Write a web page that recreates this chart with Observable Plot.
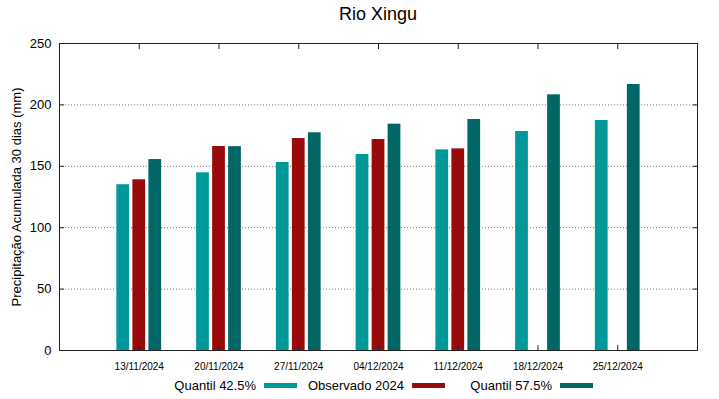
<!DOCTYPE html>
<html>
<head>
<meta charset="utf-8">
<script src="https://cdn.jsdelivr.net/npm/d3@7"></script>
<script src="https://cdn.jsdelivr.net/npm/@observablehq/plot@0.6"></script>
<style>
  body { margin: 0; background: #fff; font-family: "Liberation Sans", Arial, sans-serif; }
  #wrap { position: relative; width: 719px; height: 399px; overflow: hidden; }
  #title { position: absolute; top: 4px; left: 0; width: 756px; text-align: center; font-size: 18px; color: #000; }
  #legend { position: absolute; top: 378px; left: 149px; display: flex; font-size: 13px; color: #000; }
  .item { width: 148px; display: flex; justify-content: flex-end; align-items: center; }
  .sw { width: 33px; height: 5px; margin-left: 8px; }
  #chart { position: absolute; top: 0; left: 0; }
</style>
</head>
<body>
<div id="wrap">
  <div id="chart"></div>
  <div id="title">Rio Xingu</div>
  <div id="legend"></div>
</div>
<script>
const dates = ["13/11/2024","20/11/2024","27/11/2024","04/12/2024","11/12/2024","18/12/2024","25/12/2024"];
const q425 = [135, 144.7, 153.1, 159.6, 163.4, 178.3, 187.3];
const obs2024 = [139, 166.1, 172.6, 171.8, 164.2, null, null];
const q575 = [155.5, 166, 177.3, 184.3, 188.1, 208.2, 216.6];
const seriesNames = ["Quantil 42.5%", "Observado 2024", "Quantil 57.5%"];
const seriesColors = ["#009999", "#990a0a", "#006666"];
const yTicks = [0, 50, 100, 150, 200, 250];
const gridTicks = [50, 100, 150, 200];
const yLabel = "Precipitação Acumulada 30 dias (mm)";

const toRows = vals => dates.map((d, i) => ({date: d, value: vals[i]})).filter(r => r.value != null);
const rows = [toRows(q425), toRows(obs2024), toRows(q575)];
const offsets = [-16, 0, 16];

const plot = Plot.plot({
  width: 719,
  height: 399,
  marginTop: 43,
  marginBottom: 49,
  marginLeft: 59,
  marginRight: 22,
  style: {fontFamily: "Liberation Sans, Arial, sans-serif", background: "#fff", color: "#000"},
  x: {domain: dates, paddingInner: 0.84, paddingOuter: 0.92, align: 0.5, round: false},
  y: {domain: [0, 250]},
  marks: [
    Plot.gridY(gridTicks, {stroke: "#777", strokeOpacity: 1, strokeDasharray: "1,2"}),
    ...rows.map((r, i) => Plot.barY(r, {x: "date", y: "value", dx: offsets[i], fill: seriesColors[i]})),
    Plot.axisY(yTicks, {anchor: "left", tickSize: 0, tickPadding: 8, fontSize: 13, label: null}),
    Plot.text([yLabel], {text: d => d, frameAnchor: "left", rotate: -90, dx: -43, fontSize: 13, textAnchor: "middle"}),
    Plot.axisY(yTicks, {anchor: "left", tickSize: -5, tickFormat: () => "", label: null, stroke: "#222"}),
    Plot.axisY(yTicks, {anchor: "right", tickSize: -5, tickFormat: () => "", label: null, stroke: "#222"}),
    Plot.axisX({anchor: "bottom", tickSize: 0, tickPadding: 12, fontSize: 10, label: null}),
    Plot.axisX({anchor: "bottom", tickSize: -5, tickFormat: () => "", label: null, stroke: "#222"}),
    Plot.axisX({anchor: "top", tickSize: -5, tickFormat: () => "", label: null, stroke: "#222"}),
    Plot.frame({stroke: "#222"})
  ]
});
document.getElementById("chart").appendChild(plot);

const legend = document.getElementById("legend");
seriesNames.forEach((n, i) => {
  const it = document.createElement("div");
  it.className = "item";
  const t = document.createElement("span");
  t.textContent = n;
  const s = document.createElement("span");
  s.className = "sw";
  s.style.background = seriesColors[i];
  it.appendChild(t); it.appendChild(s);
  legend.appendChild(it);
});
</script>
</body>
</html>
